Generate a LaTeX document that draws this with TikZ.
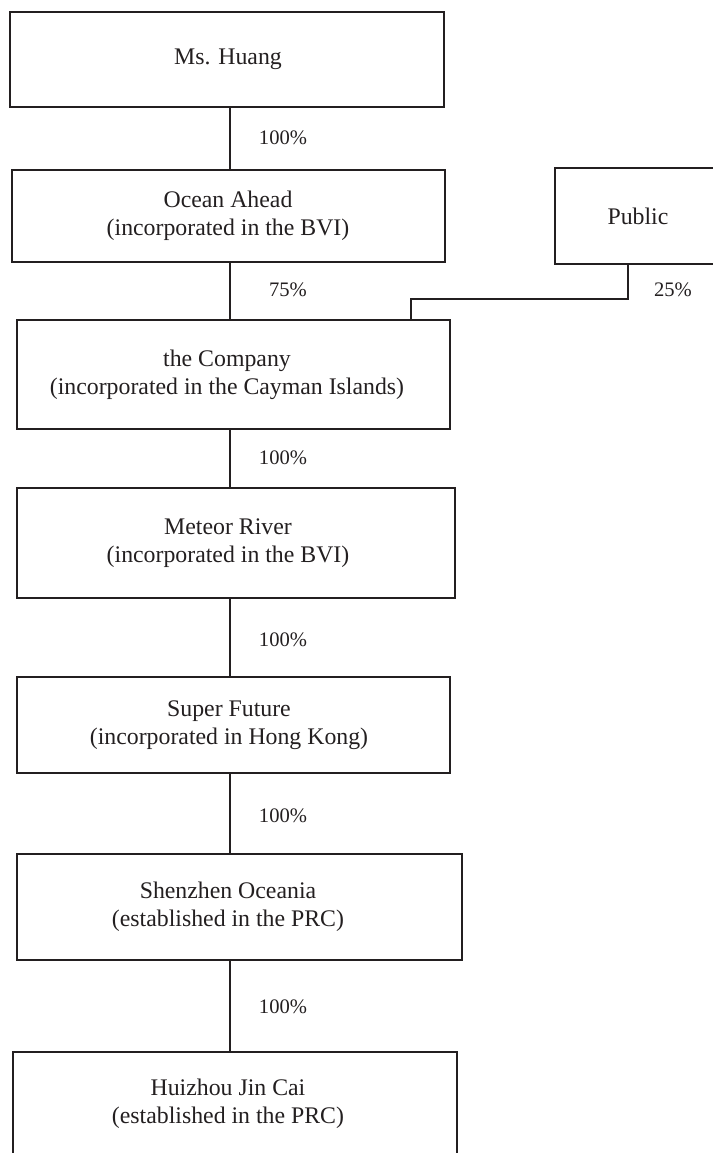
\documentclass[tikz,border=0pt]{standalone}
\usepackage{fontspec}
\setmainfont{Liberation Serif}
\usepackage{tikz}
\usetikzlibrary{positioning,calc}
\definecolor{ChartInk}{HTML}{231F20}

\begin{document}
\begin{tikzpicture}[x=1pt, y=-1pt,
  entity/.style={draw=ChartInk, line width=1.3pt, inner sep=0pt},
  link/.style={draw=ChartInk, line width=1.3pt},
  share/.style={font=\fontsize{20.6}{24}\selectfont, text=ChartInk},
  every node/.style={align=center}]
  \useasboundingbox (0,0) rectangle (712,1153);
  \foreach \nm/\lbl/\tx/\xa/\xb/\ya/\yb in {%
      hu/{Ms. Huang}/228/10/444/12/107,
      oa/{Ocean Ahead\\(incorporated in the BVI)}/228/12/445/170/262,
      pub/{Public}/638/555/721/168/264,
      co/{the Company\\(incorporated in the Cayman Islands)}/227/17/450/320/429,
      mr/{Meteor River\\(incorporated in the BVI)}/228/17/455/488/598,
      sf/{Super Future\\(incorporated in Hong Kong)}/229/17/450/677/773,
      so/{Shenzhen Oceania\\(established in the PRC)}/228/17/462/854/960,
      hj/{Huizhou Jin Cai\\(established in the PRC)}/228/13/457/1052/1156}{
    \node[entity, minimum width={(\xb-\xa)*1pt}, minimum height={(\yb-\ya)*1pt}]
      (\nm) at ({(\xa+\xb)/2},{(\ya+\yb)/2}) {};
    \node[font=\fontsize{23.8}{28}\selectfont, text=ChartInk]
      (\nm t) at (\tx,{(\ya+\yb)/2}) {\lbl};
  }
  \coordinate (spine) at (230,0);
  \foreach \a/\b in {hu/oa, oa/co, co/mr, mr/sf, sf/so, so/hj}
    \draw[link] (\a.south -| spine) -- (\b.north -| spine);
  % public holding joins the company from the right
  \coordinate (elbow) at (628,299);
  \coordinate (drop) at (411,0);
  \draw[link] (pub.south -| elbow) -- (elbow) -| (co.north -| drop);
  \node[share] (s1) at (283,138) {100\%};
  \node[share] (s2) at (288,290) {75\%};
  \node[share] (s3) at (673,290) {25\%};
  \node[share] (s4) at (283,458) {100\%};
  \node[share] (s5) at (283,640) {100\%};
  \node[share] (s6) at (283,816) {100\%};
  \node[share] (s7) at (283,1007) {100\%};
\end{tikzpicture}
\end{document}
